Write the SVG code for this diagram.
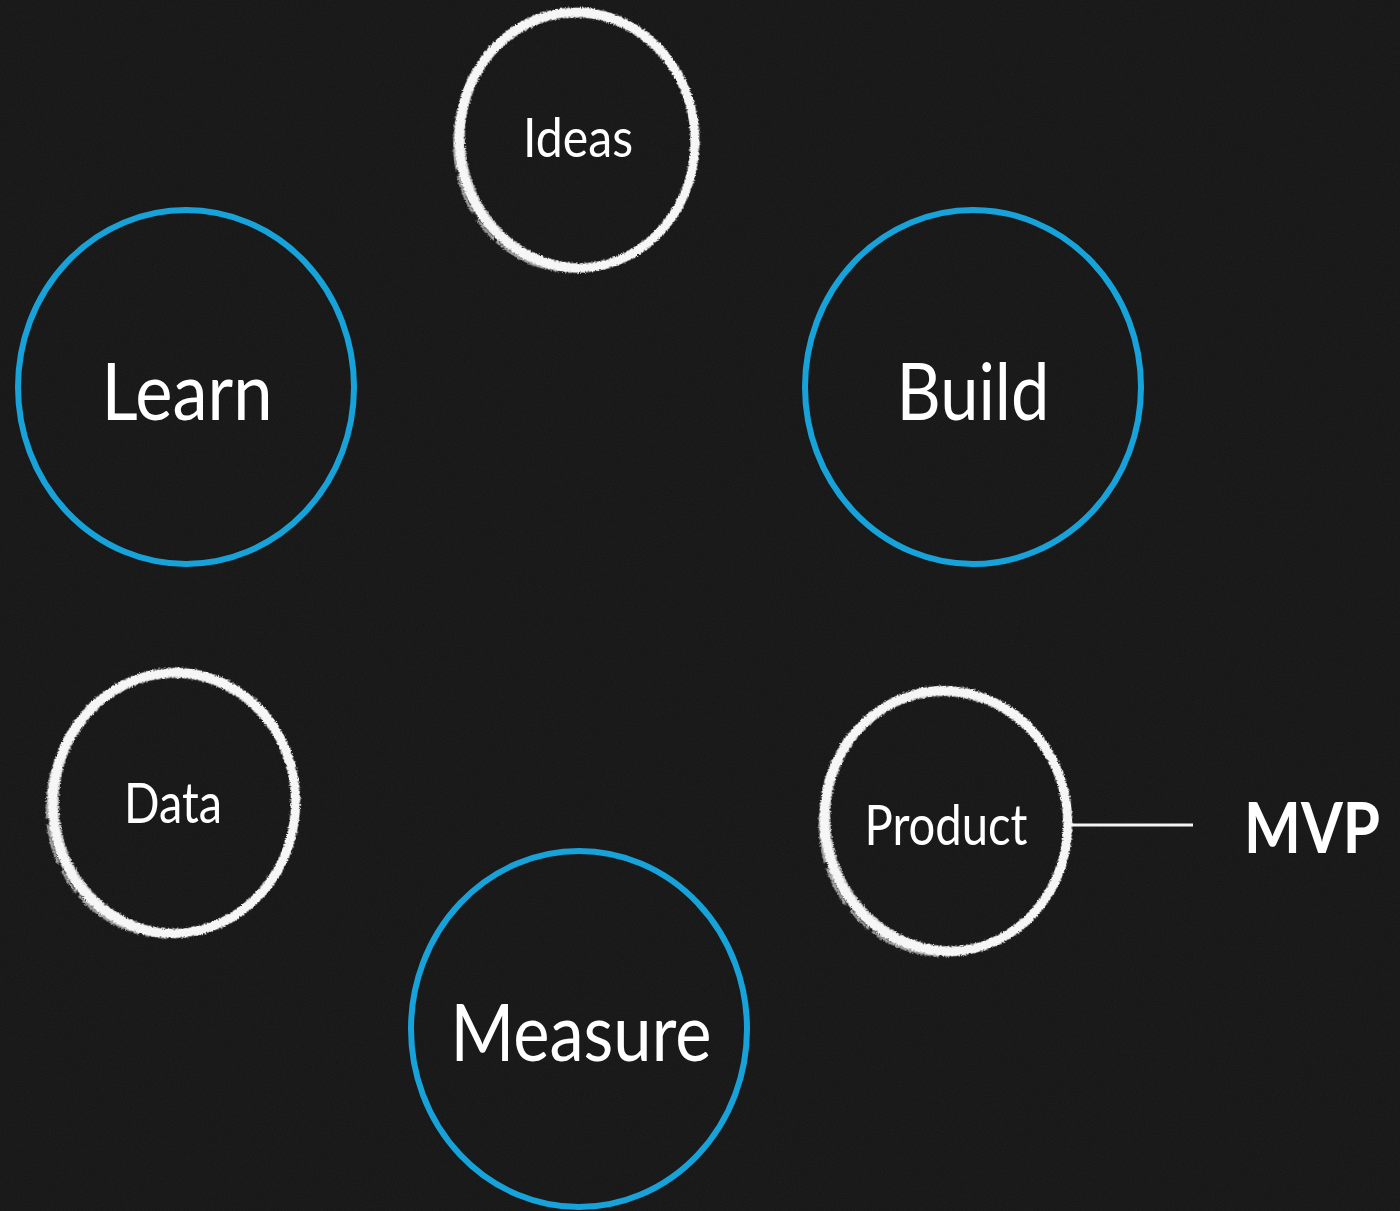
<svg xmlns="http://www.w3.org/2000/svg" width="1400" height="1211" viewBox="0 0 1400 1211">
  <defs>
    <style>
      .blue { fill: none; stroke: #17a3d9; stroke-width: 6; }
      .brush { fill: none; stroke: #f6f6f6; }
      .label { fill: #ffffff; font-family: Lato, "Open Sans", "Liberation Sans", sans-serif; font-weight: 400; text-anchor: middle; }
      .mvp { fill: #ffffff; font-family: Lato, "Open Sans", "Liberation Sans", sans-serif; font-weight: 700; text-anchor: middle; }
      .link { stroke: #f4f4f4; stroke-width: 3; }
    </style>
    <!-- fine grain for the canvas -->
    <filter id="grain" x="0" y="0" width="100%" height="100%">
      <feTurbulence type="fractalNoise" baseFrequency="0.9" numOctaves="2" seed="4" result="n"/>
      <feColorMatrix in="n" type="matrix" values="0 0 0 0 1  0 0 0 0 1  0 0 0 0 1  0 0 0 0.05 0"/>
    </filter>
    <!-- rough, dry-brush edge for the hand drawn rings -->
    <filter id="rough" x="-10%" y="-10%" width="120%" height="120%">
      <feTurbulence type="fractalNoise" baseFrequency="0.7" numOctaves="2" seed="7" result="t"/>
      <feDisplacementMap in="SourceGraphic" in2="t" scale="4" xChannelSelector="R" yChannelSelector="G"/>
    </filter>
    <g id="ring">
      <ellipse cx="0" cy="0" rx="118" ry="128" class="brush" stroke-width="9"/>
      <ellipse cx="1.5" cy="1" rx="115.5" ry="125.5" class="brush" stroke-width="4" opacity="0.8" transform="rotate(-6)"/>
      <ellipse cx="-1" cy="1.5" rx="121.5" ry="130.5" class="brush" stroke-width="2.5" opacity="0.6" stroke-dasharray="40 6 70 4 25 8" transform="rotate(10)"/>
      <ellipse cx="0.5" cy="-1" rx="119" ry="127" class="brush" stroke-width="3" opacity="0.7" stroke-dasharray="90 12 30 5" transform="rotate(-18)"/>
    </g>
  </defs>

  <!-- canvas -->
  <rect x="0" y="0" width="1400" height="1211" fill="#141414"/>
  <rect x="0" y="0" width="1400" height="1211" filter="url(#grain)"/>

  <!-- connector -->
  <g id="connectors">
    <line class="link" x1="1070" y1="825" x2="1193" y2="825"/>
  </g>

  <g id="ideas">
    <use href="#ring" transform="translate(577,140) rotate(-3)" filter="url(#rough)"/>
    <text class="label" x="578" y="157" font-size="54" textLength="110" lengthAdjust="spacingAndGlyphs">Ideas</text>
  </g>

  <g id="learn">
    <ellipse class="blue" cx="186" cy="387" rx="168" ry="177"/>
    <text class="label" x="187" y="420" font-size="80" textLength="171" lengthAdjust="spacingAndGlyphs">Learn</text>
  </g>

  <g id="build">
    <ellipse class="blue" cx="973" cy="387" rx="168" ry="177"/>
    <text class="label" x="973" y="420" font-size="80" textLength="153" lengthAdjust="spacingAndGlyphs">Build</text>
  </g>

  <g id="data">
    <use href="#ring" transform="translate(174,803) rotate(4) scale(1.03,1.02)" filter="url(#rough)"/>
    <text class="label" x="173" y="823" font-size="57" textLength="98" lengthAdjust="spacingAndGlyphs">Data</text>
  </g>

  <g id="product">
    <use href="#ring" transform="translate(946,821) rotate(-8) scale(1.03,1.02)" filter="url(#rough)"/>
    <text class="label" x="946" y="845" font-size="57" textLength="163" lengthAdjust="spacingAndGlyphs">Product</text>
  </g>

  <g id="measure">
    <ellipse class="blue" cx="579" cy="1029" rx="168" ry="178"/>
    <text class="label" x="581" y="1061" font-size="80" textLength="261" lengthAdjust="spacingAndGlyphs">Measure</text>
  </g>

  <g id="mvp">
    <text class="mvp" x="1312" y="853" font-size="70" textLength="136" lengthAdjust="spacingAndGlyphs">MVP</text>
  </g>
</svg>
